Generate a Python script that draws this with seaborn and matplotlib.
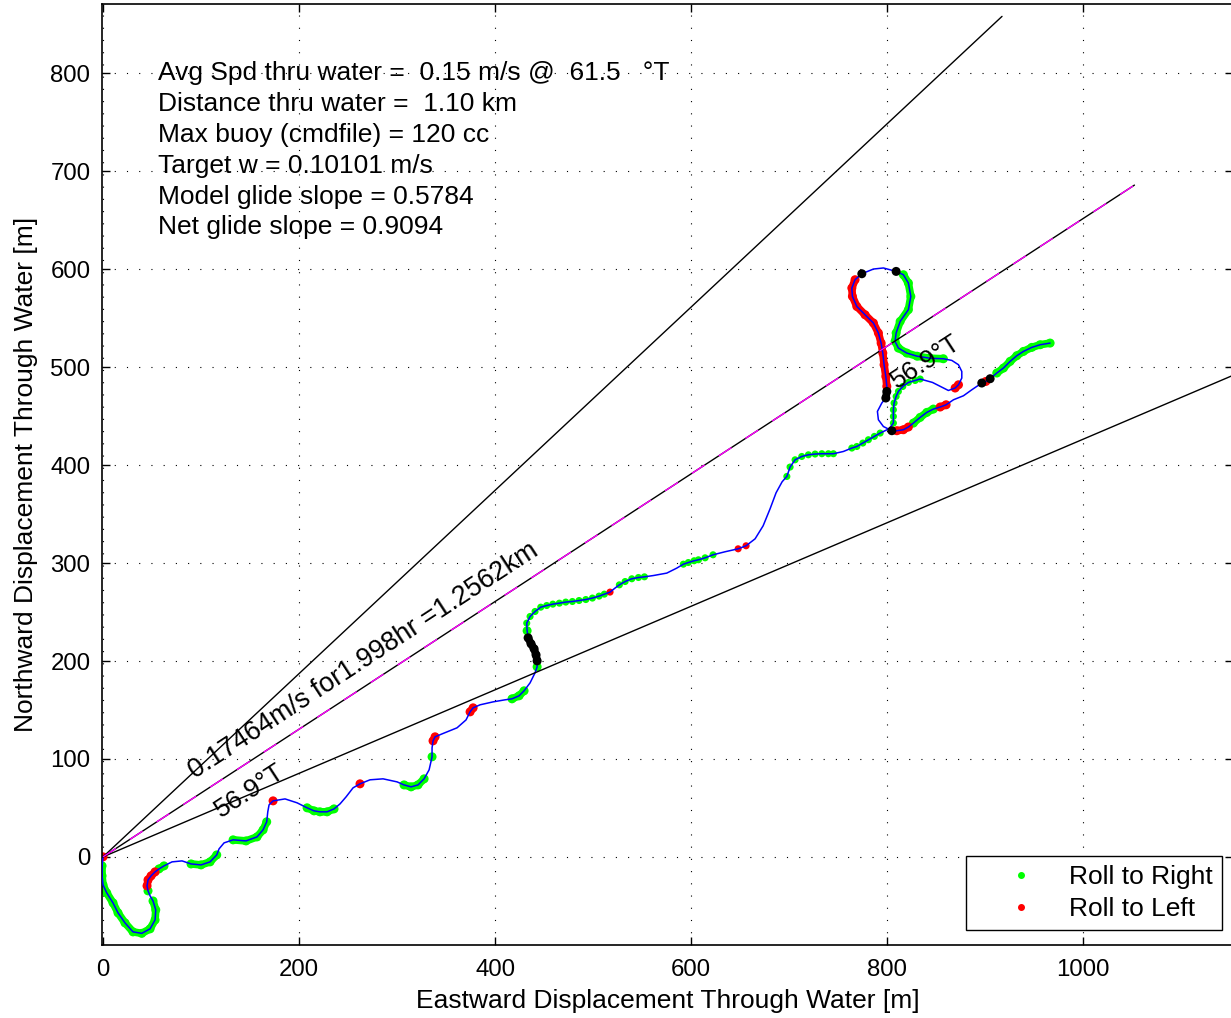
import numpy as np
import pandas as pd
import seaborn as sns
import matplotlib.pyplot as plt
from matplotlib.lines import Line2D

# glider track through water [m] and roll state at each sample
# R/L/B = roll right / roll left / no roll (dense samples), lower case = sparse samples
east = [0.0, -1.0, -1.0, 0.0, 3.8, 10.2, 15.3, 22.4, 30.6, 39.5,
        48.0, 53.1, 53.8, 51.0, 48.0, 45.9, 44.9, 45.9, 49.0, 53.1,
        57.1, 62.2, 70.4, 80.6, 89.8, 100.0, 109.2, 116.0, 118.4, 123.5,
        132.7, 145.9, 157.1, 163.3, 167.0, 168.1, 169.4, 173.5, 185.7, 198.0,
        208.2, 215.3, 221.4, 228.6, 235.7, 241.8, 248.0, 255.1, 262.2, 272.4,
        285.7, 300.0, 307.1, 314.3, 321.4, 327.6, 332.7, 335.7, 335.7, 336.7,
        338.8, 345.9, 361.2, 370.4, 374.5, 377.6, 384.7, 398.0, 410.2, 417.3,
        424.5, 429.6, 435.7, 440.8, 442.9, 442.9, 441.8, 439.8, 436.7, 433.7,
        432.7, 432.3, 435.7, 440.8, 446.6, 452.7, 458.9, 465.6, 472.1, 478.9,
        485.7, 492.6, 499.3, 506.1, 511.5, 517.3, 522.4, 526.8, 532.7, 539.5,
        546.3, 552.4, 561.5, 575.2, 585.4, 592.1, 597.2, 603.1, 607.5, 614.3,
        622.4, 634.7, 648.0, 656.1, 665.3, 673.5, 680.6, 686.7, 692.9, 697.7,
        701.0, 706.1, 712.9, 719.7, 726.5, 733.4, 740.1, 745.2, 755.4, 764.0,
        769.1, 775.2, 780.9, 787.0, 792.9, 802.0, 806.4, 806.4, 806.4, 807.1,
        809.2, 811.5, 816.0, 821.7, 828.6, 833.7, 846.3, 856.5, 862.5, 869.4,
        872.8, 876.2, 876.2, 872.8, 866.0, 857.4, 843.9, 830.6, 820.1, 811.5,
        808.1, 809.2, 813.3, 821.7, 824.2, 821.7, 816.6, 809.2, 796.2, 786.0,
        774.2, 767.3, 764.0, 764.6, 769.1, 777.5, 786.0, 791.1, 793.9, 795.6,
        796.9, 798.7, 799.7, 799.7, 798.7, 794.6, 790.1, 791.1, 796.2, 804.8,
        809.9, 816.6, 821.7, 826.8, 833.7, 840.5, 847.2, 854.1, 860.2, 867.7,
        877.9, 886.4, 891.5, 896.6, 900.7, 905.1, 911.9, 918.7, 925.5, 932.3,
        939.1, 947.6, 956.1, 966.3]
north = [0.0, -9.2, -19.4, -28.6, -36.8, -47.0, -57.2, -67.4, -76.6, -78.1,
         -73.5, -64.4, -54.1, -45.0, -39.8, -34.7, -29.6, -23.5, -19.4, -15.3,
         -12.3, -9.2, -5.1, -4.1, -7.2, -8.2, -5.1, 2.0, 8.2, 14.3,
         17.4, 16.3, 20.4, 27.6, 35.8, 46.0, 53.1, 57.2, 59.2, 55.2,
         50.1, 47.0, 46.0, 46.0, 49.0, 54.1, 61.3, 70.5, 74.6, 78.7,
         79.7, 76.6, 73.5, 71.5, 73.5, 79.7, 88.9, 102.2, 111.3, 118.5,
         122.6, 125.6, 131.8, 139.9, 148.1, 152.2, 155.3, 158.3, 160.4, 161.4,
         164.5, 169.6, 177.7, 188.0, 194.1, 200.2, 206.3, 212.5, 217.6, 223.7,
         230.9, 238.7, 245.5, 250.6, 255.0, 256.7, 258.1, 259.1, 260.2, 260.8,
         261.8, 262.8, 264.3, 266.3, 268.3, 270.4, 274.5, 277.8, 281.2, 284.0,
         285.3, 286.0, 287.3, 289.8, 294.9, 298.9, 300.6, 302.4, 303.4, 305.4,
         308.5, 311.6, 314.6, 317.7, 324.8, 338.1, 355.5, 371.8, 383.1, 388.5,
         398.1, 405.5, 408.9, 410.6, 411.4, 411.7, 411.7, 411.7, 414.0, 417.5,
         419.1, 422.6, 426.0, 429.4, 432.8, 437.2, 443.0, 449.8, 456.6, 463.5,
         470.2, 475.3, 480.4, 484.5, 486.5, 488.0, 484.5, 479.4, 476.3, 478.8,
         482.1, 489.0, 495.7, 502.6, 507.0, 508.7, 509.2, 511.3, 514.5, 519.6,
         526.4, 535.0, 546.8, 558.8, 572.3, 586.0, 594.5, 597.9, 601.4, 600.3,
         595.5, 589.4, 580.9, 572.4, 562.1, 553.6, 545.2, 535.0, 524.7, 514.5,
         502.6, 490.6, 480.4, 475.3, 468.6, 463.5, 454.9, 446.4, 439.5, 435.2,
         435.2, 436.2, 439.0, 443.0, 448.8, 453.9, 457.3, 459.4, 461.7, 466.8,
         470.9, 477.0, 480.4, 483.9, 485.5, 488.3, 494.1, 499.2, 506.0, 511.8,
         516.2, 520.3, 523.0, 524.7]
roll = (["L"] + ["R"] * 13 + ["", "R"] + ["L"] * 4 + ["R", "R", "", ""]
        + ["R"] * 4 + ["", ""] + ["R"] * 5 + ["", "", "L", "", ""]
        + ["R"] * 5 + ["", "", "", "L", "", "", ""] + ["R"] * 4
        + ["", "R", "", "L", "L", "", "", "", "L", "L", "", "", ""]
        + ["R"] * 3 + ["", "", "R"] + ["B"] * 5 + ["R"]
        + ["r"] * 14 + ["l", ""] + ["r"] * 5 + ["", "", ""] + ["r"] * 6
        + ["", "l", "l"] + [""] * 5 + ["r"] * 9 + [""] + ["r"] * 6 + [""]
        + ["r"] * 10 + ["", "", "", "L", "L", "", "", "", ""]
        + ["R"] * 12 + ["B", "", "", "B"] + ["L"] * 12 + ["B", "B"]
        + [""] * 4 + ["B", "L", "L", "L"] + ["R"] * 4 + ["L", "L"]
        + [""] * 4 + ["B", "L", "B"] + ["R"] * 8)

heading = 56.9      # deg T
spread = 10.0       # deg either side
speed = 0.17464     # m/s
hours = 1.998
dist_km = 1.2562

info_lines = [
    "Avg Spd thru water =  0.15 m/s @  61.5   \u00b0T",
    "Distance thru water =  1.10 km",
    "Max buoy (cmdfile) = 120 cc",
    "Target w = 0.10101 m/s",
    "Model glide slope = 0.5784",
    "Net glide slope = 0.9094",
]

df = pd.DataFrame({"east": east, "north": north, "roll": roll})
df["state"] = df["roll"].str.upper()
df["dense"] = df["roll"].str.isupper()

sns.set_style("ticks")
plt.rcParams["font.family"] = ["Liberation Sans", "DejaVu Sans"]
plt.rcParams["text.color"] = "k"
plt.rcParams["axes.labelcolor"] = "k"

FS = 19      # text size
TFS = 17.3   # tick label size

fig = plt.figure(figsize=(12.31, 10.18), dpi=100)
ax = fig.add_axes([0.0825, 0.0717, 0.9192, 0.9244])

colors = {"R": "#00ff00", "L": "#ff0000", "B": "#000000"}
zord = {"R": 2, "L": 2, "B": 4}

# thick bands where samples are dense
for st, col in colors.items():
    mask = (df["state"] == st) & df["dense"]
    grp = (mask != mask.shift()).cumsum()
    for _, seg in df[mask].groupby(grp[mask]):
        if len(seg) > 1:
            ax.plot(seg["east"], seg["north"], color=col, lw=5.5,
                    solid_capstyle="round", zorder=zord[st])
    sel = df[df["state"] == st]
    sns.scatterplot(data=sel[sel["dense"]], x="east", y="north", color=col,
                    s=42, edgecolor="none", zorder=zord[st], ax=ax, legend=False)
    sns.scatterplot(data=sel[~sel["dense"]], x="east", y="north", color=col,
                    s=26, edgecolor="none", zorder=zord[st], ax=ax, legend=False)

# track
sns.lineplot(data=df, x="east", y="north", sort=False, estimator=None,
             color="#0000ff", lw=1.1, zorder=3, ax=ax)

# heading lines
L = dist_km * 1000
for h in (heading - spread, heading + spread):
    ax.plot([0, L * np.sin(np.radians(h))], [0, L * np.cos(np.radians(h))],
            color="k", lw=1.0, zorder=5)
mx, my = L * np.sin(np.radians(heading)), L * np.cos(np.radians(heading))
ax.plot([0, mx], [0, my], color="k", lw=1.0, zorder=5)
ax.plot([0, mx], [0, my], color="#ff00ff", lw=1.0, zorder=6,
        linestyle=(0, (11, 12)))

rot = 90 - heading
ax.text(94, 80, f"{speed}m/s for{hours}hr ={dist_km}km", rotation=rot,
        rotation_mode="anchor", ha="left", va="baseline", fontsize=19.4, zorder=7)
ax.text(120, 40, f"{heading}\u00b0T", rotation=rot, rotation_mode="anchor",
        ha="left", va="baseline", fontsize=FS, zorder=7)
ax.text(810, 478, f"{heading}\u00b0T", rotation=rot, rotation_mode="anchor",
        ha="left", va="baseline", fontsize=FS, zorder=7)

for i, s in enumerate(info_lines):
    ax.text(56, 800 - i * 31.45, s, ha="left", va="center", fontsize=FS, zorder=7)

ax.set_xlim(-1.5, 1153)
ax.set_ylim(-90, 871)
ax.set_xticks(range(0, 1001, 200))
ax.set_yticks(range(0, 801, 100))
ax.grid(True, color="k", linestyle=(0, (1, 10)), linewidth=0.8)
ax.set_axisbelow(True)
ax.tick_params(direction="in", length=6, width=1, top=True, right=True,
               labelsize=TFS, pad=8, colors="k")
ax.tick_params(axis="x", pad=10)
for sp in ax.spines.values():
    sp.set_linewidth(1.2)
    sp.set_color("k")

ax.set_xlabel("Eastward Displacement Through Water [m]", fontsize=FS, labelpad=6)
ax.set_ylabel("Northward Displacement Through Water [m]", fontsize=FS, labelpad=9)

handles = [Line2D([], [], ls="", marker=".", color=colors["R"], markersize=8),
           Line2D([], [], ls="", marker=".", color=colors["L"], markersize=8)]
leg = ax.legend(handles, ["Roll to Right", "Roll to Left"], loc="lower right",
                bbox_to_anchor=(1222 / 1231, 1 - 930 / 1018),
                bbox_transform=fig.transFigure, fontsize=FS, fancybox=False,
                framealpha=1, edgecolor="k", borderpad=0.35, handlelength=3.45,
                handletextpad=0.1, labelspacing=0.3, borderaxespad=0)
leg.get_frame().set_linewidth(1.0)
leg.set_zorder(10)

fig.savefig("out.png", dpi=100)
